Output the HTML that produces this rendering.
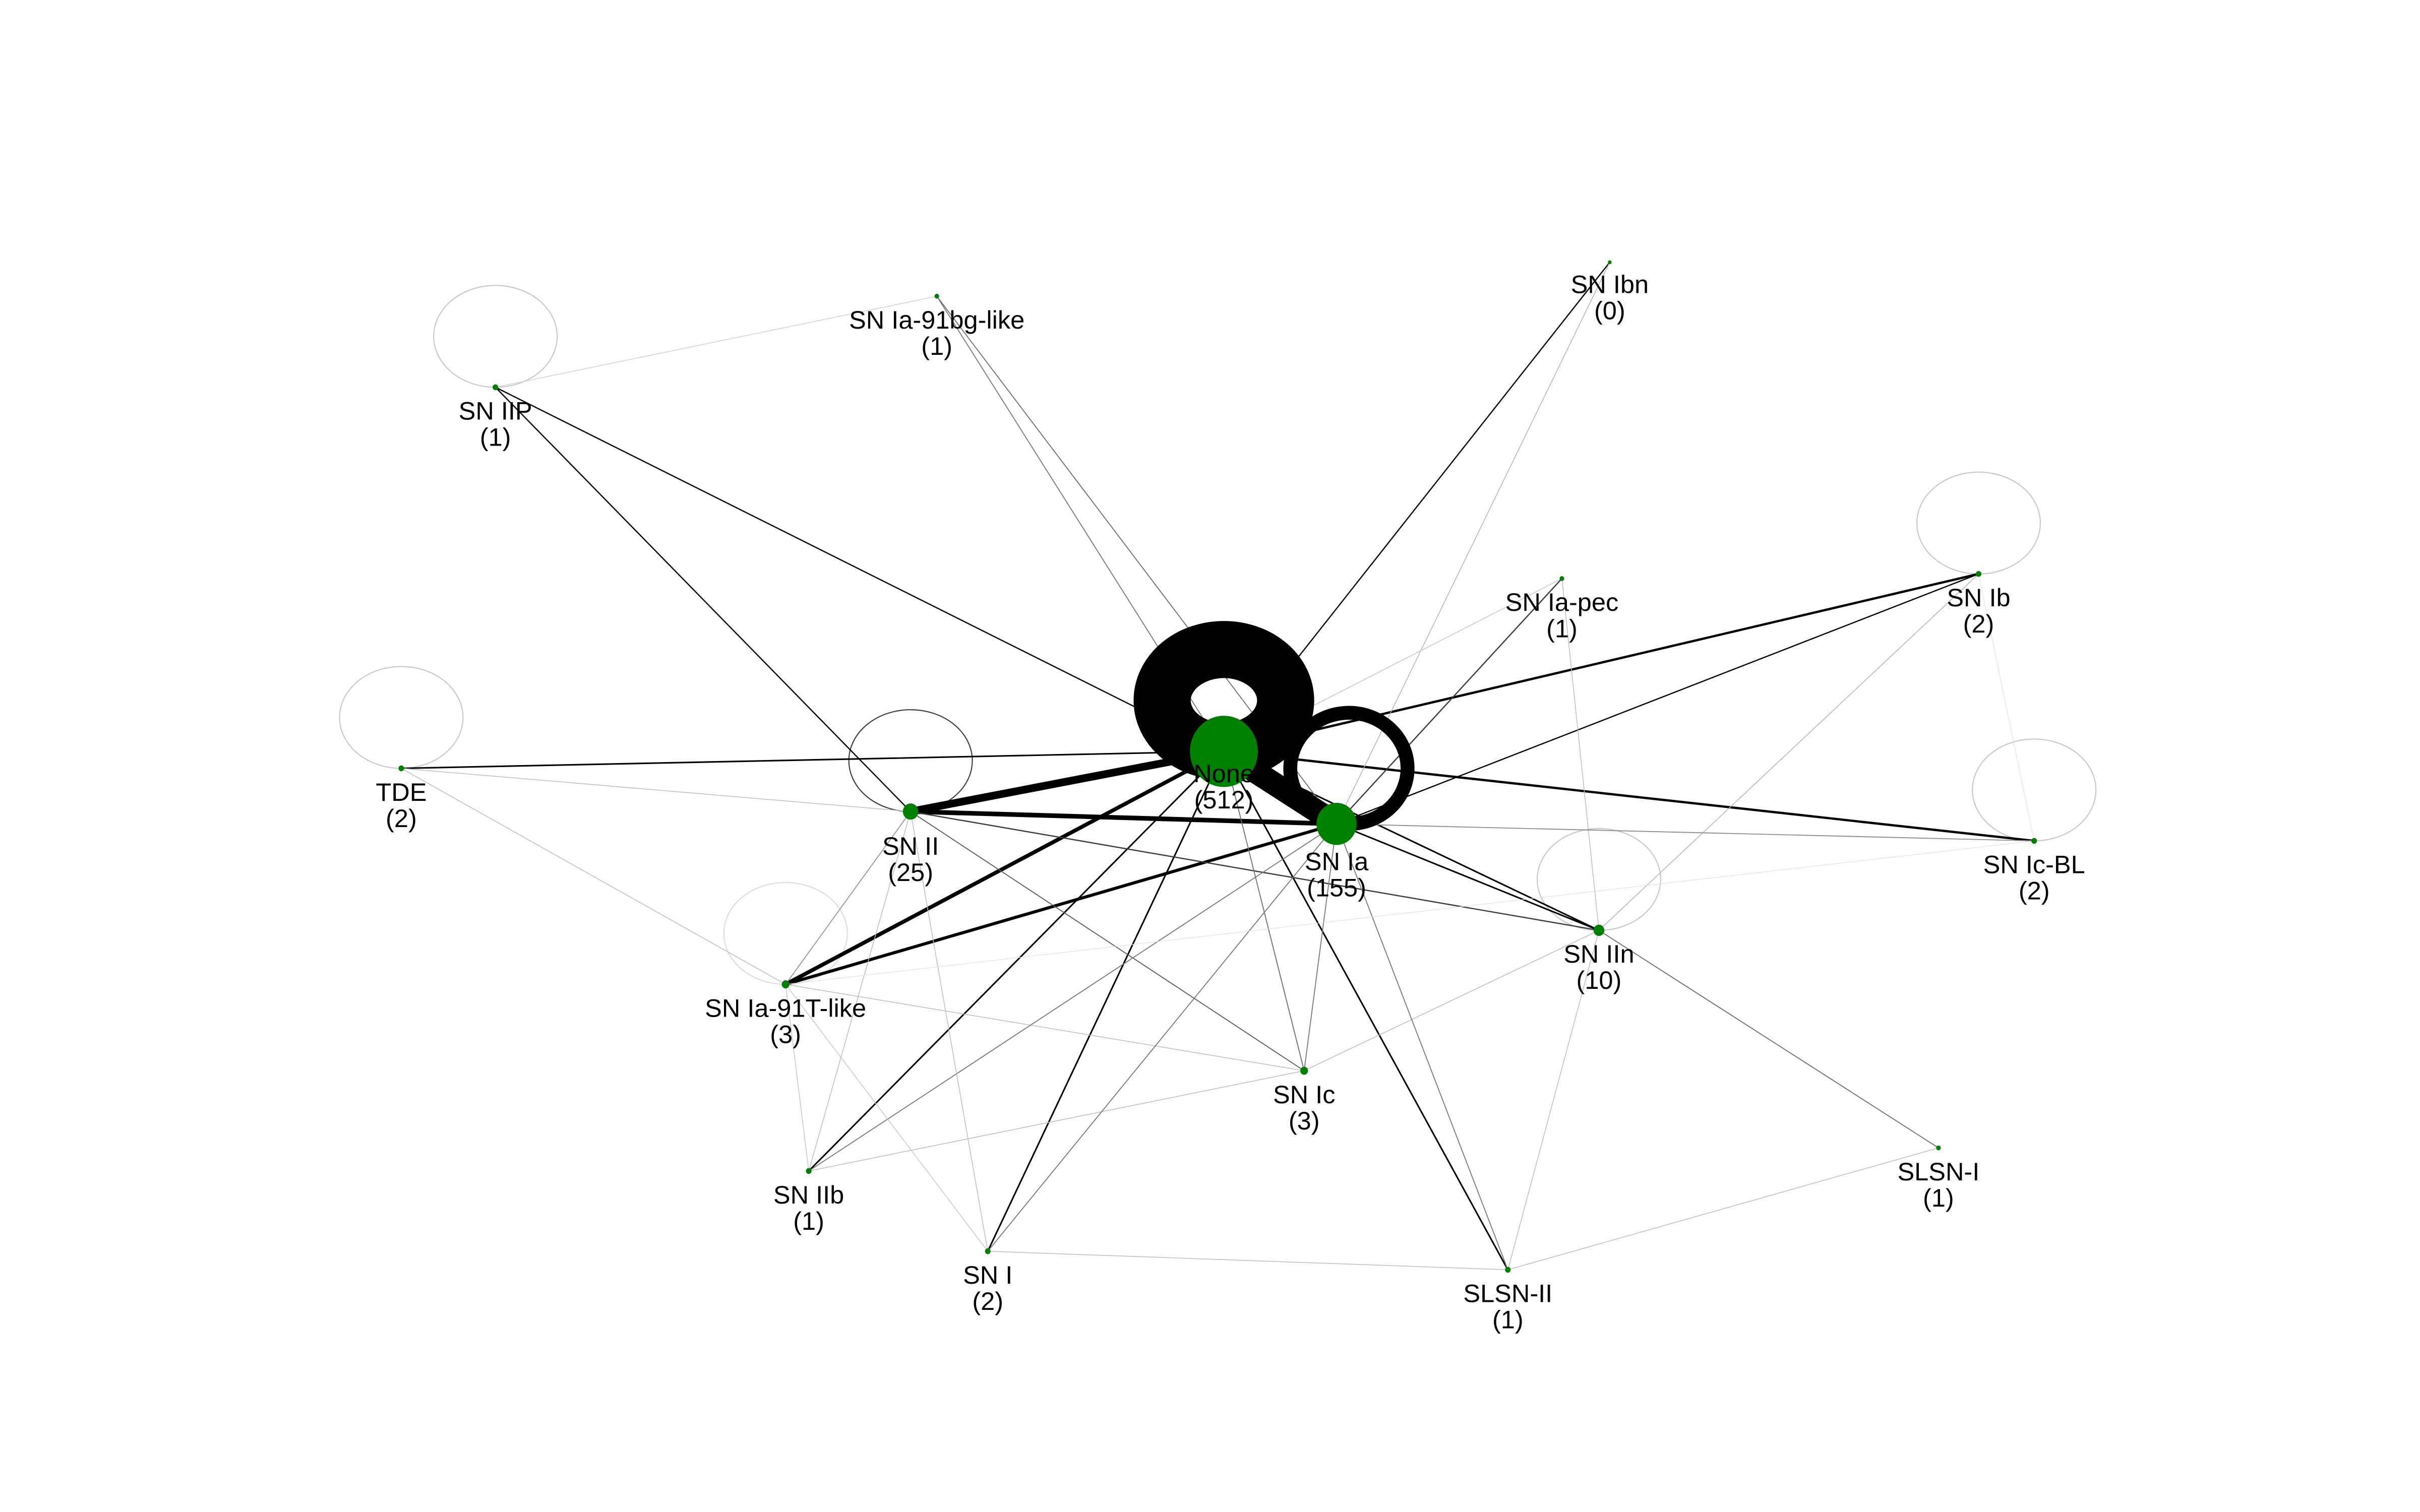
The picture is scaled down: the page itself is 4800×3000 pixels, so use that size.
<!DOCTYPE html>
<html><head><meta charset="utf-8">
<style>
html,body{margin:0;padding:0;background:#fff;}
svg{display:block;}
text{font-family:"Liberation Sans",Arial,sans-serif;font-size:16.5px;fill:#000;}
</style></head>
<body>
<svg id="chart" width="4800" height="3000" viewBox="0 0 1568 980" xmlns="http://www.w3.org/2000/svg">
<g id="loops"></g>
<g id="edges"></g>
<g id="bigloops"></g>
<g id="nodes"></g>
<g id="labels"></g>
</svg>
<script>
// node data
const nodeNames = ["None","SN Ia","SN II","SN IIn","SN Ia-91T-like","SN Ic","SN IIb","SN I","SLSN-II","SLSN-I","SN Ic-BL","SN Ib","SN Ia-pec","SN Ibn","SN Ia-91bg-like","SN IIP","TDE"];
const nodeCounts = [512,155,25,10,3,3,1,2,1,1,2,2,1,0,1,1,2];
// layout positions (graph layout coordinates)
const layoutX = [793,866,590,1036,509,845,524,640,977,1256,1318,1282,1012,1043,607,321,260];
const layoutY = [487,534,526,603,638,694,759,811,823,744,545,372,375,170,192,251,498];
const nodeRadius = [22,13,5,3.5,2.5,2.5,1.8,1.8,1.8,1.5,1.8,1.8,1.5,1.2,1.5,1.8,1.8];
const labelExtra = [0,10,8,1,1,1,1,1,1,1,1,1,1,0,1,1,1];
// edges: source, target, weight (stroke width), gray level
const edgeSrc = [15,15,13,16,0,11,11,12,2,2,4,4,6,7,8,0,2,2,1,3,14,14,14,13,12,12,11,11,16,16,5,5,5,5,5,6,6,6,7,7,7,7,8,8,8,10,10,4,0];
const edgeDst = [0,2,0,0,10,0,1,1,0,1,0,1,0,0,0,3,3,5,3,9,0,1,15,1,0,3,3,10,2,4,0,1,3,6,4,2,1,4,2,4,8,1,1,3,9,1,4,2,1];
const edgeW =   [0.8,0.8,0.8,1,1.5,1.5,0.8,0.8,5,3,2.5,2,1,1,1,1,0.8,0.6,1,0.6,0.6,0.6,0.5,0.5,0.5,0.5,0.5,0.4,0.5,0.5,0.6,0.6,0.5,0.5,0.5,0.5,0.6,0.5,0.5,0.5,0.5,0.6,0.6,0.5,0.5,0.6,0.4,0.6,15];
const edgeGray = [0,0,0,0,0,0,0,60,0,0,0,0,0,0,0,0,60,90,0,110,120,110,210,180,200,190,180,225,190,190,110,120,190,190,190,190,120,200,190,200,190,120,120,190,190,140,225,150,0];
// self loops
const loopNode = [15,16,2,11,10,3,4];
const loopGray = [200,200,60,200,200,200,220];
const NS="http://www.w3.org/2000/svg";
function gc(v){return `rgb(${v},${v},${v})`;}
const eg=document.getElementById('edges');
for(let i=0;i<edgeSrc.length;i++){
  const l=document.createElementNS(NS,'line');
  l.setAttribute('x1',layoutX[edgeSrc[i]]);l.setAttribute('y1',layoutY[edgeSrc[i]]);
  l.setAttribute('x2',layoutX[edgeDst[i]]);l.setAttribute('y2',layoutY[edgeDst[i]]);
  l.setAttribute('stroke',gc(edgeGray[i]));l.setAttribute('stroke-width',edgeW[i]);
  
  
  eg.appendChild(l);
}
const lg=document.getElementById('loops');
for(let i=0;i<loopNode.length;i++){
  const n=loopNode[i];
  const e=document.createElementNS(NS,'ellipse');
  e.setAttribute('cx',layoutX[n]);e.setAttribute('cy',layoutY[n]-33);
  e.setAttribute('rx',40);e.setAttribute('ry',33);
  e.setAttribute('fill','none');e.setAttribute('stroke',gc(loopGray[i]));e.setAttribute('stroke-width',0.7);
  
  
  lg.appendChild(e);
}
const bg=document.getElementById('bigloops');
const e1=document.createElementNS(NS,'ellipse');
e1.setAttribute('cx',layoutX[0]);e1.setAttribute('cy',layoutY[0]-33);
e1.setAttribute('rx',40);e1.setAttribute('ry',33);
e1.setAttribute('fill','none');e1.setAttribute('stroke','#000');e1.setAttribute('stroke-width',37);


bg.appendChild(e1);
const e2=document.createElementNS(NS,'ellipse');
e2.setAttribute('cx',layoutX[1]+8);e2.setAttribute('cy',layoutY[1]-36);
e2.setAttribute('rx',38);e2.setAttribute('ry',36);
e2.setAttribute('fill','none');e2.setAttribute('stroke','#000');e2.setAttribute('stroke-width',9);


bg.appendChild(e2);
const ng=document.getElementById('nodes'),tg=document.getElementById('labels');
for(let i=0;i<nodeNames.length;i++){
  const c=document.createElementNS(NS,'ellipse');
  c.setAttribute('cx',layoutX[i]);c.setAttribute('cy',layoutY[i]);
  c.setAttribute('rx',nodeRadius[i]);c.setAttribute('ry',nodeRadius[i]*1.05);
  c.setAttribute('fill','#008000');
  
  
  ng.appendChild(c);
  const t=document.createElementNS(NS,'text');
  t.setAttribute('x',layoutX[i]);t.setAttribute('y',layoutY[i]+20+labelExtra[i]);
  t.setAttribute('text-anchor','middle');
  
  
  const s1=document.createElementNS(NS,'tspan');s1.setAttribute('x',layoutX[i]);s1.textContent=nodeNames[i];
  const s2=document.createElementNS(NS,'tspan');s2.setAttribute('x',layoutX[i]);s2.setAttribute('dy',17);s2.textContent='('+nodeCounts[i]+')';
  t.appendChild(s1);t.appendChild(s2);
  tg.appendChild(t);
}
</script>
</body></html>
